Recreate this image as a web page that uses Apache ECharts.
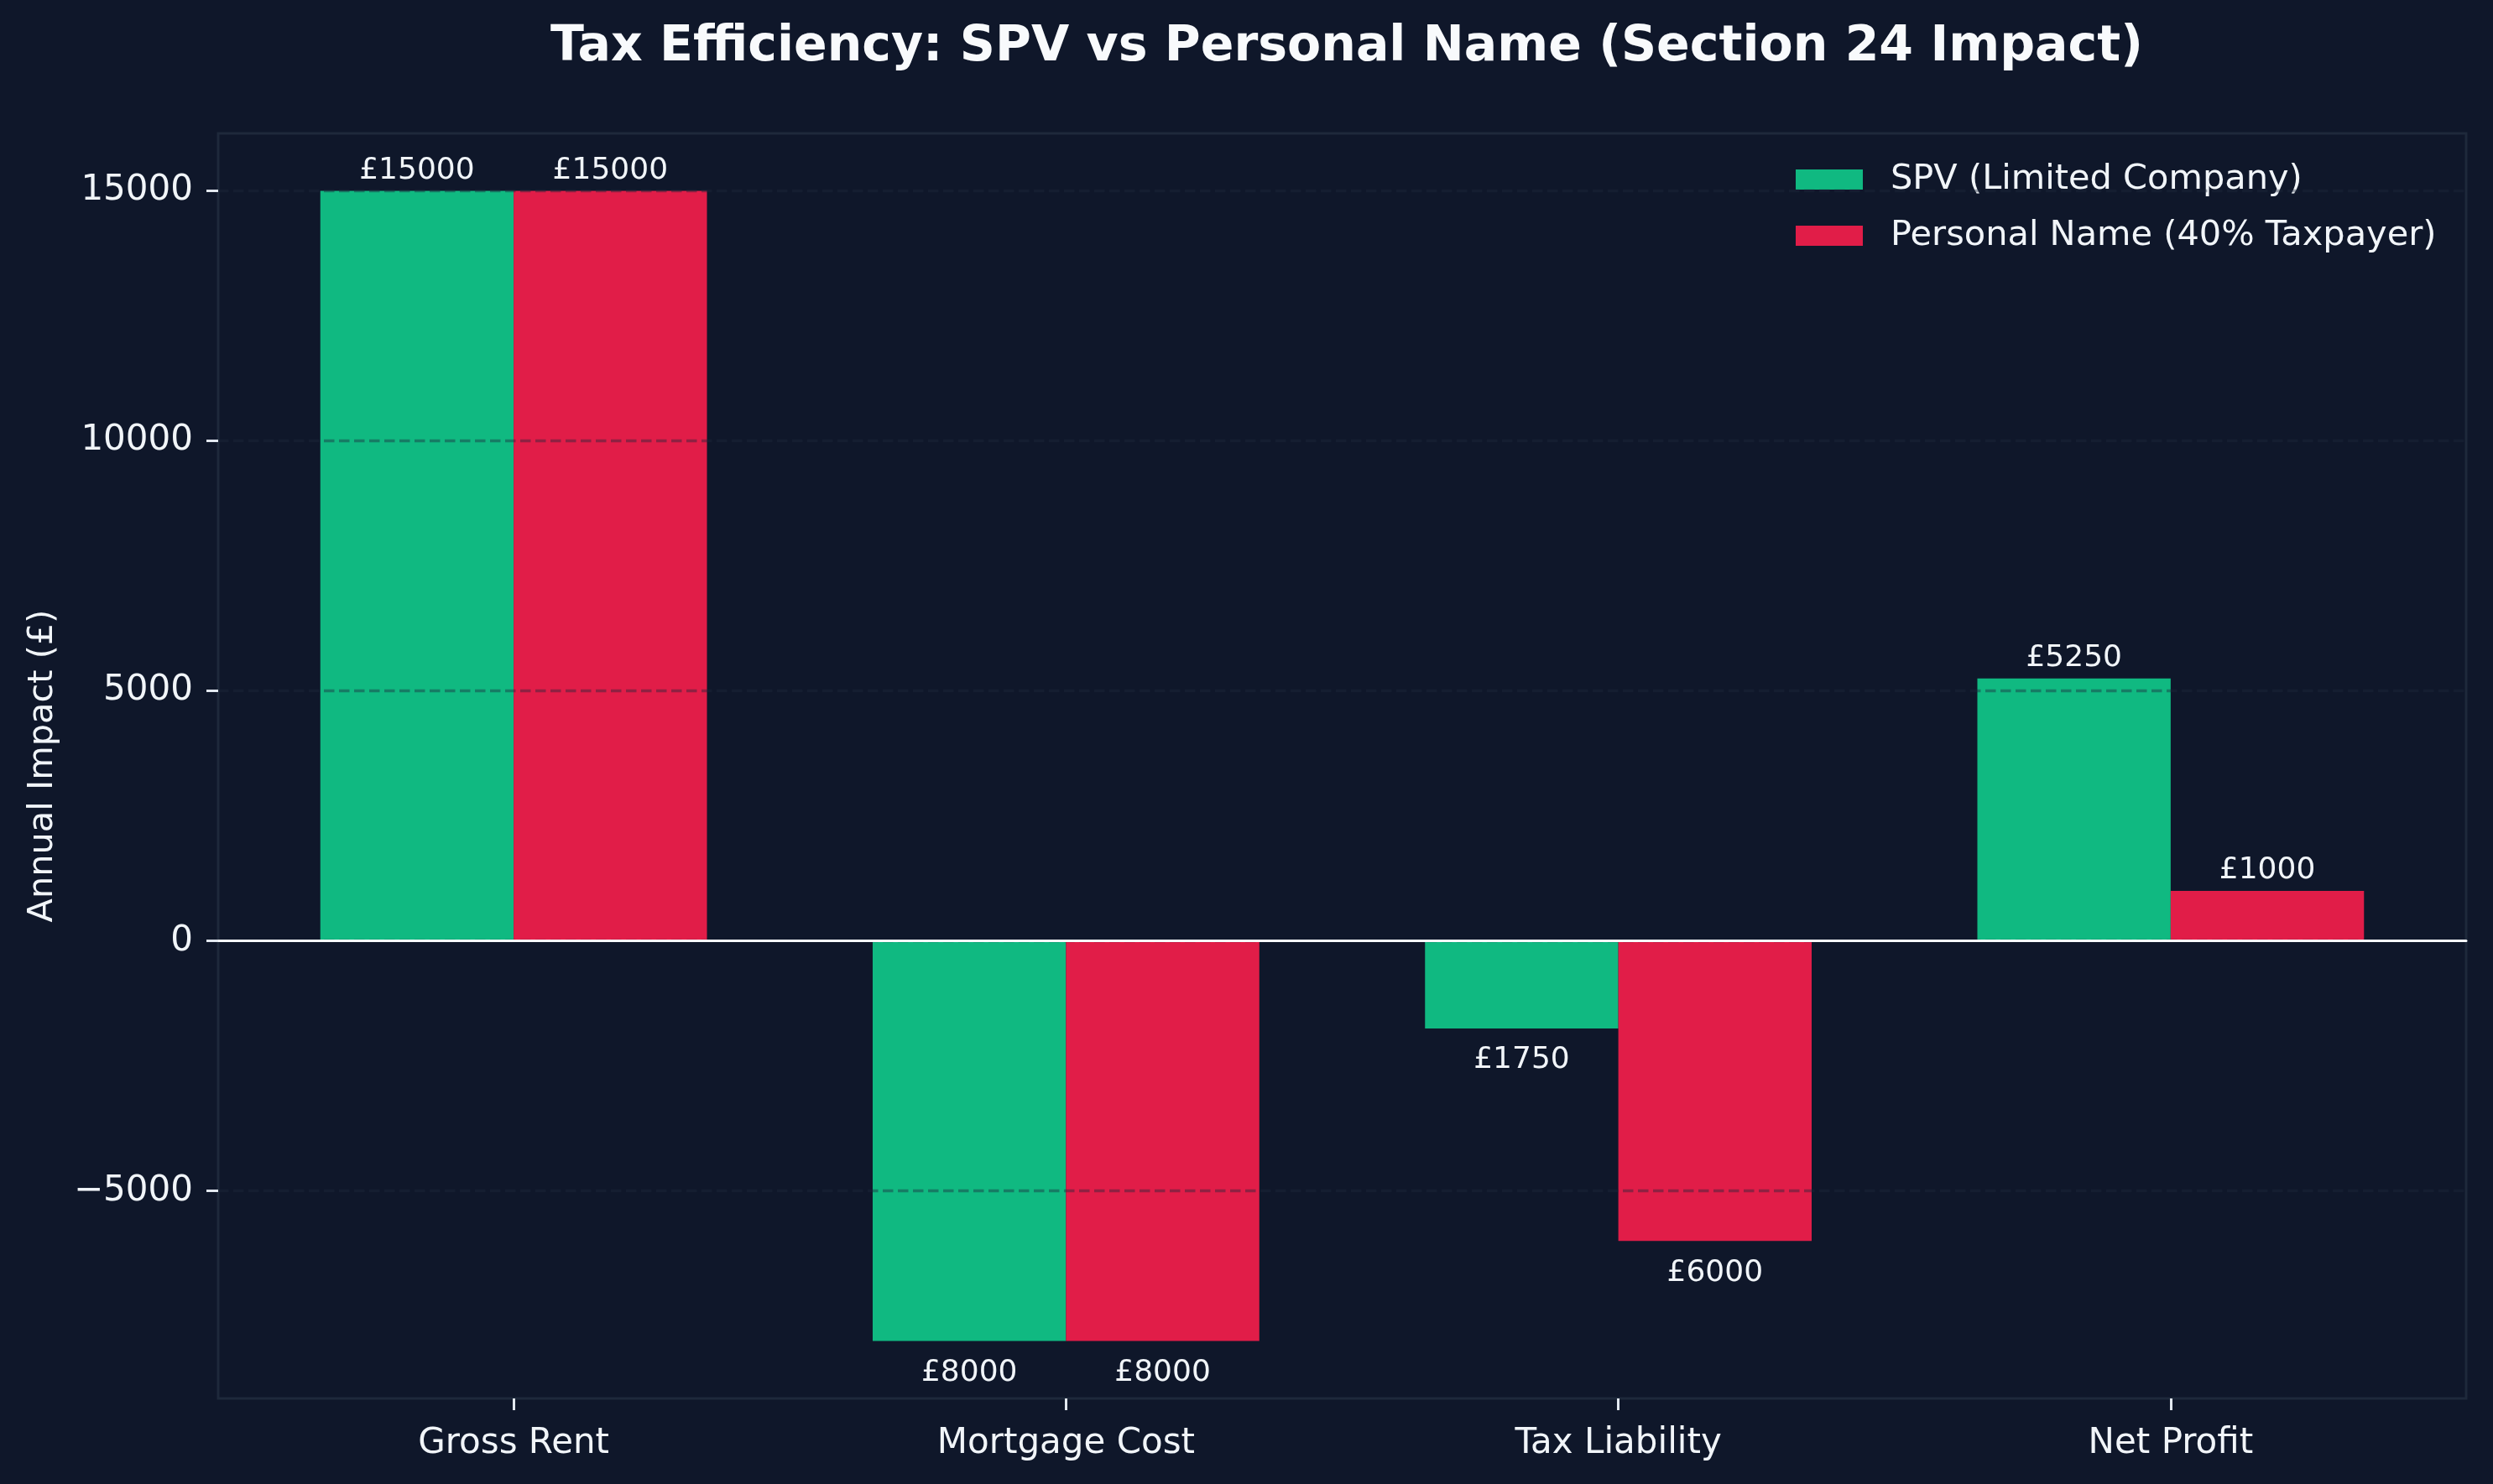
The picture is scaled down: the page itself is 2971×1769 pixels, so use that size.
<!DOCTYPE html>
<html>
	<head>
		<meta charset="utf-8" />
		<title>Tax Efficiency: SPV vs Personal Name</title>
		<script src="https://cdn.jsdelivr.net/npm/echarts@6/dist/echarts.min.js"></script>
		<style>
			* {
				margin: 0;
				padding: 0;
				box-sizing: border-box;
			}
			body {
				background: #0f172a;
			}
		</style>
	</head>
	<body>
		<div id="main" style="width: 2971px; height: 1769px"></div>
		<script>
			// chart data
			var categories = ['Gross Rent', 'Mortgage Cost', 'Tax Liability', 'Net Profit'];
			var spvValues = [15000, -8000, -1750, 5250];
			var personalValues = [15000, -8000, -6000, 1000];
			var yTicks = [-5000, 0, 5000, 10000, 15000];
			var seriesNames = ['SPV (Limited Company)', 'Personal Name (40% Taxpayer)'];

			var FONT = 'DejaVu Sans';
			var TEXT = '#f1f5f9';
			var Y_MIN = -9150;
			var Y_MAX = 16150;

			// positive bars get the label above, negative ones below
			function barData(values) {
				return values.map(function (v) {
					return {
						value: v,
						label: {
							position: v < 0 ? 'bottom' : 'top',
							distance: v < 0 ? 20 : 6,
						},
					};
				});
			}

			var barLabel = {
				show: true,
				color: TEXT,
				fontSize: 36,
				fontFamily: FONT,
				formatter: function (p) {
					return '£' + Math.abs(p.value);
				},
			};

			var myChart = echarts.init(document.getElementById('main'));
			var option = {
				backgroundColor: '#0f172a',
				animation: false,
				textStyle: {fontFamily: FONT},
				title: {
					text: 'Tax Efficiency: SPV vs Personal Name (Section 24 Impact)',
					left: 1600,
					top: 22,
					textAlign: 'center',
					textStyle: {color: '#f8fafc', fontSize: 58.5, fontWeight: 'bold', fontFamily: FONT},
				},
				legend: {
					data: seriesNames,
					orient: 'vertical',
					left: 2135,
					top: 188,
					icon: 'rect',
					itemWidth: 80,
					itemHeight: 24,
					itemGap: 25,
					textStyle: {color: TEXT, fontSize: 41.5, fontFamily: FONT, lineHeight: 42, padding: [0, 0, 0, 28]},
				},
				grid: [
					// bars: inset so the category bands match the reference spacing
					{left: 283, right: 55, top: 159, bottom: 102},
					// frame with y axis, grid lines and zero line
					{left: 260, right: 32, top: 159, bottom: 102, show: true, borderColor: '#1e293b', borderWidth: 3, backgroundColor: 'transparent'},
				],
				xAxis: [
					{
						type: 'category',
						gridIndex: 0,
						data: categories,
						axisLine: {show: false, onZero: false},
						axisTick: {show: true, alignWithLabel: true, length: 14, lineStyle: {color: '#e2e8f0', width: 3}},
						axisLabel: {color: TEXT, fontSize: 42, margin: 33, fontFamily: FONT},
						splitLine: {show: false},
					},
					{
						type: 'value',
						gridIndex: 1,
						min: 0,
						max: 1,
						z: 10,
						axisLine: {show: true, onZero: true, onZeroAxisIndex: 1, lineStyle: {color: '#f8fafc', width: 3}},
						axisTick: {show: false},
						axisLabel: {show: false},
						splitLine: {show: false},
					},
				],
				yAxis: [
					{
						type: 'value',
						gridIndex: 0,
						min: Y_MIN,
						max: Y_MAX,
						show: false,
						splitLine: {show: false},
					},
					{
						type: 'value',
						gridIndex: 1,
						min: Y_MIN,
						max: Y_MAX,
						z: 10,
						name: 'Annual Impact (£)',
						nameLocation: 'middle',
						nameRotate: 90,
						nameGap: 188,
						nameTextStyle: {color: TEXT, fontSize: 41.5, fontFamily: FONT},
						axisLine: {show: false},
						axisTick: {show: true, length: 14, customValues: yTicks, lineStyle: {color: '#e2e8f0', width: 3}},
						axisLabel: {
							color: TEXT,
							fontSize: 42,
							margin: 30,
							fontFamily: FONT,
							customValues: yTicks,
							formatter: function (v) {
								return v < 0 ? '\u2212' + Math.abs(v) : String(v);
							},
						},
						splitLine: {
							show: true,
							lineStyle: {color: 'rgba(30,41,59,0.42)', width: 3.3, type: [12.5, 5.5]},
						},
					},
				],
				series: [
					{
						name: seriesNames[0],
						type: 'bar',
						xAxisIndex: 0,
						yAxisIndex: 0,
						data: barData(spvValues),
						barGap: '0%',
						barCategoryGap: '30%',
						itemStyle: {color: '#10b981'},
						label: barLabel,
					},
					{
						name: seriesNames[1],
						type: 'bar',
						xAxisIndex: 0,
						yAxisIndex: 0,
						data: barData(personalValues),
						barGap: '0%',
						barCategoryGap: '30%',
						itemStyle: {color: '#e11d48'},
						label: barLabel,
					},
				],
			};
			option && myChart.setOption(option);
		</script>
	</body>
</html>
